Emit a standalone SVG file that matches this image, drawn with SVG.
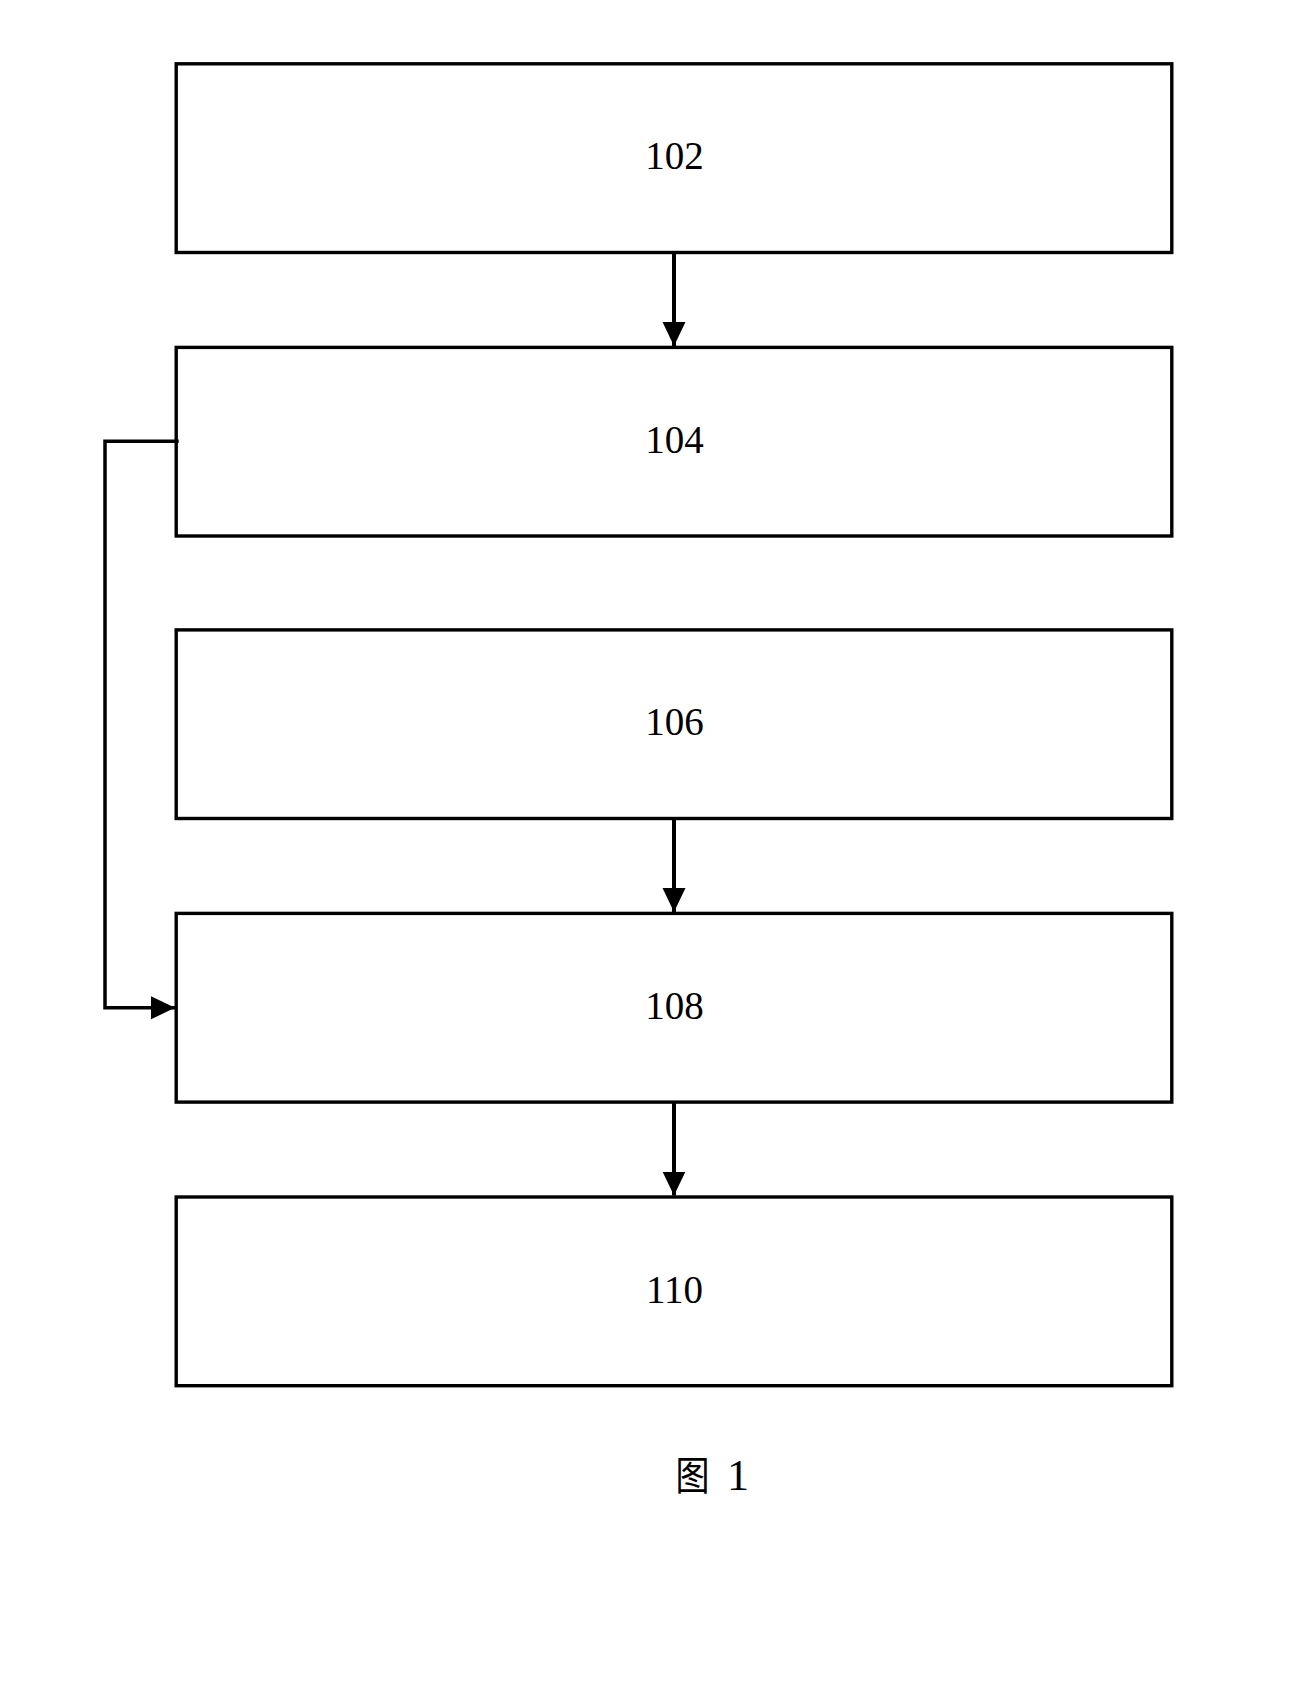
<svg xmlns="http://www.w3.org/2000/svg" width="1308" height="1691" viewBox="0 0 1308 1691">
<style>
.box{fill:#fff;stroke:#000;stroke-width:3.4}
.lbl{font-family:"Liberation Serif","Times New Roman",serif;font-size:39px;fill:#000;text-anchor:middle}
.con{fill:none;stroke:#000;stroke-width:4}
.fb{fill:none;stroke:#000;stroke-width:3.5}
</style>
<defs>
<marker id="ah" markerUnits="userSpaceOnUse" markerWidth="24" markerHeight="24" refX="24" refY="12" orient="auto">
<path d="M0,0.5 L24,12 L0,23.5 z" fill="#000"/>
</marker>
</defs>
<rect width="1308" height="1691" fill="#fff"/>
<g id="n102"><rect class="box" x="176.2" y="63.8" width="995.6" height="188.7"/><text class="lbl" x="674.5" y="169.3">102</text></g>
<g id="n104"><rect class="box" x="176.2" y="347.4" width="995.6" height="188.6"/><text class="lbl" x="674.5" y="452.8">104</text></g>
<g id="n106"><rect class="box" x="176.2" y="629.9" width="995.6" height="188.6"/><text class="lbl" x="674.5" y="735.3">106</text></g>
<g id="n108"><rect class="box" x="176.2" y="913.4" width="995.6" height="188.7"/><text class="lbl" x="674.5" y="1018.9">108</text></g>
<g id="n110"><rect class="box" x="176.2" y="1197" width="995.6" height="188.7"/><text class="lbl" x="674.5" y="1302.5">110</text></g>
<g id="connectors">
<line class="con" x1="674" y1="252.5" x2="674" y2="346" marker-end="url(#ah)"/>
<line class="con" x1="674" y1="818.5" x2="674" y2="912" marker-end="url(#ah)"/>
<line class="con" x1="674" y1="1102.1" x2="674" y2="1195.6" marker-end="url(#ah)"/>
<path class="fb" d="M178.7,441.3 H105 V1007.8 H175" marker-end="url(#ah)"/>
</g>
<g id="caption">
<text transform="translate(675.5,1490) scale(0.85,1)" font-family="'Noto Sans CJK SC',sans-serif" font-size="40" fill="#000">图</text>
<text x="727" y="1490" font-family="'Liberation Serif','Times New Roman',serif" font-size="44" fill="#000">1</text>
</g>
</svg>
